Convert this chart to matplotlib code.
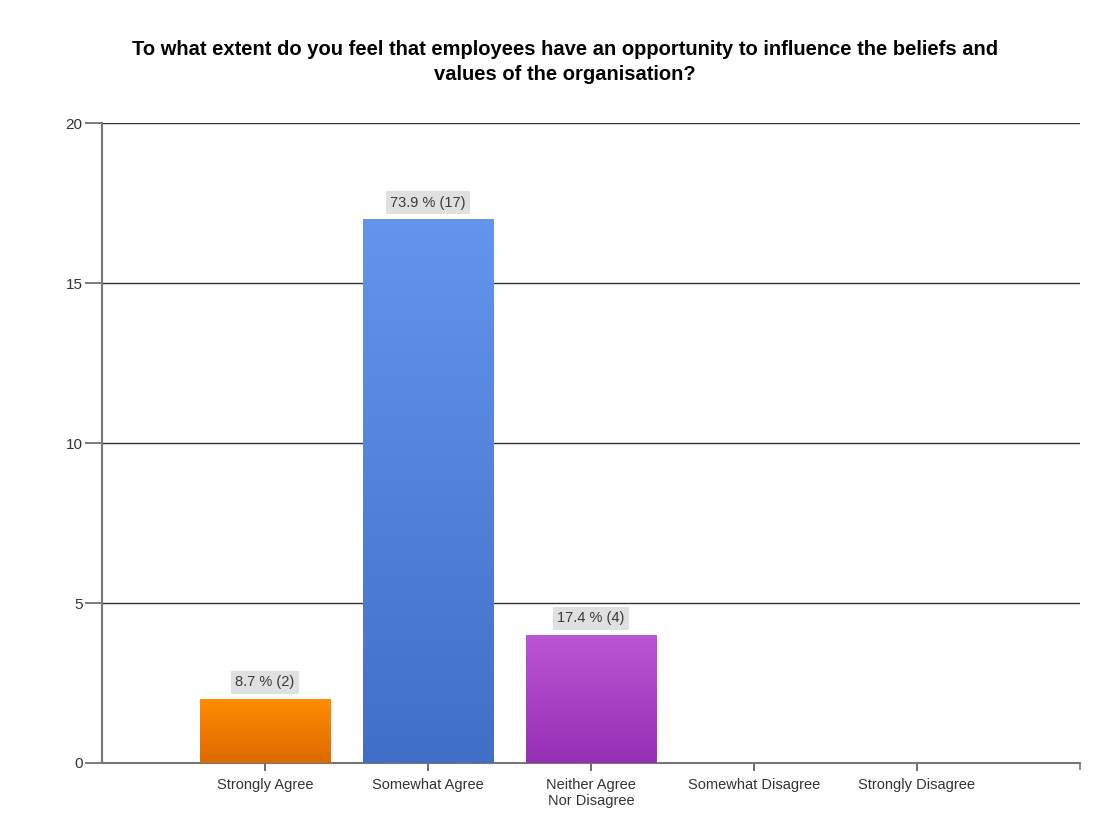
import numpy as np
import matplotlib
matplotlib.use("Agg")
import matplotlib.pyplot as plt
from matplotlib.colors import LinearSegmentedColormap

plt.rcParams['font.family'] = ['Liberation Sans', 'DejaVu Sans']

categories = ["Strongly Agree", "Somewhat Agree", "Neither Agree\nNor Disagree",
              "Somewhat Disagree", "Strongly Disagree"]
counts = [2, 17, 4, 0, 0]
percents = [8.7, 73.9, 17.4, 0.0, 0.0]
top_colors = ["#FF8C00", "#6495ED", "#BA55D3", "#999999", "#999999"]
bottom_colors = ["#DD6A00", "#3F6FC6", "#9530B5", "#777777", "#777777"]

fig = plt.figure(figsize=(11.12, 8.16), dpi=100)
ax = fig.add_axes([0.0917, 0.065, 0.8795, 0.784])

x = np.arange(len(categories))
bars = ax.bar(x, counts, width=0.8, color="none", edgecolor="none", zorder=3)

grad = np.linspace(1, 0, 256).reshape(-1, 1)
for b, c, ct, cb, p in zip(bars, counts, top_colors, bottom_colors, percents):
    if c == 0:
        continue
    cmap = LinearSegmentedColormap.from_list("g", [cb, ct])
    x0 = b.get_x()
    ax.imshow(grad, cmap=cmap, aspect="auto", zorder=3,
              extent=(x0, x0 + b.get_width(), 0, b.get_height()))
    ax.text(b.get_x() + b.get_width() / 2, b.get_height() + 0.3,
            f"{p} % ({c})", ha="center", va="bottom", fontsize=10.5, color="#3a3a3a",
            bbox=dict(boxstyle="square,pad=0.3", facecolor="#E0E0E0", edgecolor="none"),
            zorder=4)

ax.set_xlim(-1, 5)
ax.set_ylim(0, 20)
ax.set_yticks([0, 5, 10, 15, 20])
ax.set_xticks(x)
ax.set_xticklabels(categories, fontsize=10.5, color="#333333", linespacing=1.15)
ax.tick_params(axis="y", labelsize=11, colors="#666666", labelcolor="#333333", length=12, width=1.2, pad=2)
ax.tick_params(axis="x", colors="#555555", labelcolor="#333333", length=6, width=1.2, pad=5)
ax.grid(axis="y", color="#333333", linewidth=1.0, zorder=1)
ax.set_axisbelow(True)
for s in ["top", "right"]:
    ax.spines[s].set_visible(False)
ax.spines["left"].set_color("#777777")
ax.spines["left"].set_linewidth(1.5)
ax.spines["bottom"].set_color("#777777")
ax.spines["bottom"].set_linewidth(1.5)
ax.plot([5, 5], [0, -0.2], color="#777777", lw=1.2, clip_on=False)

fig.suptitle("To what extent do you feel that employees have an opportunity to influence the beliefs and\nvalues of the organisation?",
             x=0.508, y=0.951, fontsize=14.5, fontweight="bold", linespacing=1.4)

fig.savefig("out.png", dpi=100)
